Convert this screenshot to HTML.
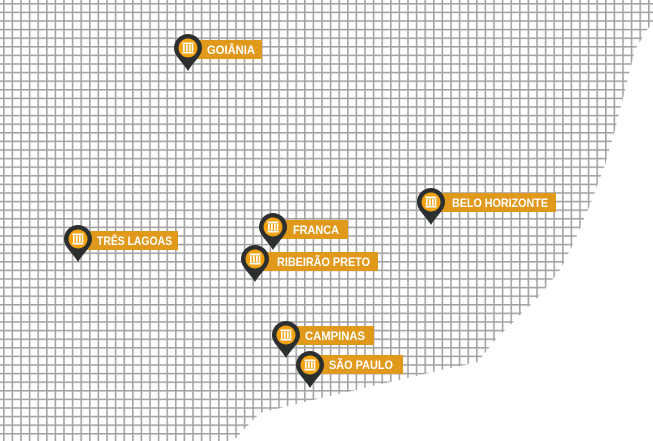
<!DOCTYPE html>
<html><head><meta charset="utf-8"><style>
html,body{margin:0;padding:0;background:#fff;}
svg{display:block}
text{font-family:"Liberation Sans",sans-serif;font-weight:bold;font-size:11.5px;fill:#fff}
</style></head><body>
<svg width="653" height="441" viewBox="0 0 653 441" xmlns="http://www.w3.org/2000/svg">
<defs>
<pattern id="g" x="3" y="3" width="8.6" height="8.6" patternUnits="userSpaceOnUse">
<rect x="0" y="0" width="1.6" height="8.6" fill="#a4a4a4"/>
<rect x="0" y="0" width="8.6" height="1.6" fill="#a4a4a4"/>
</pattern>
<clipPath id="c"><polygon points="0,0 653,0 653,22 647,30 635,50 625,90 615,130 605,165 590,205 575,240 560,270 540,295 515,320 495,340 478,362 420,375 313,400 260,413 233,441 0,441"/></clipPath>
<g id="pin">
<path d="M-14,0 A14,14 0 1 1 14,0 C14,8 6,13 0,23 C-6,13 -14,8 -14,0 Z" fill="#2b2f2f"/>
<circle r="9.5" fill="#f2a20f"/>
<rect x="-5.5" y="-5.5" width="11" height="1.8" fill="#fff"/>
<rect x="-5" y="-3.2" width="1.7" height="6.4" fill="#fff"/>
<rect x="-2" y="-3.2" width="1.7" height="6.4" fill="#fff"/>
<rect x="1" y="-3.2" width="1.7" height="6.4" fill="#fff"/>
<rect x="3.8" y="-3.2" width="1.5" height="6.4" fill="#fff"/>
<rect x="-5.5" y="3.7" width="11" height="1.8" fill="#fff"/>
</g>
</defs>
<rect width="653" height="441" fill="url(#g)" clip-path="url(#c)"/>

<rect x="188" y="40" width="74" height="19" fill="#e1991c"/>
<use href="#pin" x="188" y="48"/><text x="207" y="54" textLength="48" lengthAdjust="spacingAndGlyphs">GOIÂNIA</text>

<rect x="431" y="193" width="125" height="19" fill="#e1991c"/>
<use href="#pin" x="431" y="202"/><text x="452" y="207" textLength="96" lengthAdjust="spacingAndGlyphs">BELO HORIZONTE</text>

<rect x="273" y="220" width="75" height="19" fill="#e1991c"/>
<use href="#pin" x="273" y="227"/><text x="293" y="234" textLength="46" lengthAdjust="spacingAndGlyphs">FRANCA</text>

<rect x="78" y="231" width="100" height="19" fill="#e1991c"/>
<use href="#pin" x="78" y="239"/><text x="97" y="245" textLength="75" lengthAdjust="spacingAndGlyphs">TRÊS LAGOAS</text>

<rect x="255" y="252" width="123" height="19" fill="#e1991c"/>
<use href="#pin" x="255" y="259"/><text x="277" y="266" textLength="93" lengthAdjust="spacingAndGlyphs">RIBEIRÃO PRETO</text>

<rect x="286" y="326" width="88" height="19" fill="#e1991c"/>
<use href="#pin" x="286" y="335"/><text x="305" y="340" textLength="60" lengthAdjust="spacingAndGlyphs">CAMPINAS</text>

<rect x="310" y="355" width="93" height="19" fill="#e1991c"/>
<use href="#pin" x="310" y="365"/><text x="329" y="369" textLength="64" lengthAdjust="spacingAndGlyphs">SÃO PAULO</text>
</svg>
</body></html>
